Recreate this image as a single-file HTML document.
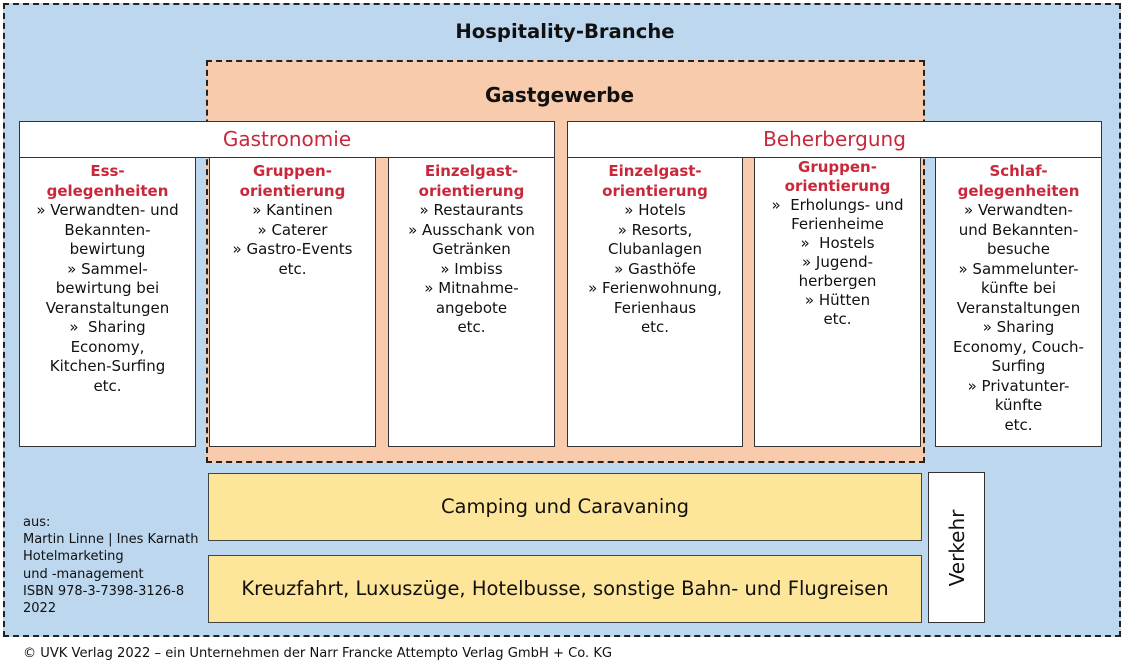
<!DOCTYPE html>
<html><head><meta charset="utf-8"><style>
*{margin:0;padding:0;box-sizing:border-box}
body{width:1125px;height:666px;background:#fff;position:relative;overflow:hidden;font-family:"DejaVu Sans","Liberation Sans",sans-serif;color:#111}
.a{position:absolute}
.box{position:absolute;background:#fff;border:1px solid #333}
.col{text-align:center;font-size:15px;line-height:19.5px;padding-top:5px;white-space:nowrap}
.h{color:#c9283a;font-weight:bold}
.hdr{position:absolute;background:#fff;border:1px solid #333;color:#c9283a;font-size:20px;text-align:center;line-height:34px}
.y{position:absolute;background:#fde59a;border:1px solid #444;text-align:center}
</style></head><body>
<div class="a" style="left:3px;top:3px;width:1118px;height:634px;background:#bdd7ee;border:2px dashed #222"></div>
<div class="a" style="left:0;width:1130px;top:19px;text-align:center;font-weight:bold;font-size:19.6px;line-height:26px">Hospitality-Branche</div>
<div class="a" style="left:206px;top:60px;width:719px;height:403px;background:#f8cbad;border:2px dashed #222"></div>
<div class="a" style="left:206px;width:707px;top:82px;text-align:center;font-weight:bold;font-size:20px;line-height:26px">Gastgewerbe</div>

<div class="box col" style="left:19px;top:156px;width:177px;height:291px"><span class="h">Ess-<br>gelegenheiten</span><br>» Verwandten- und<br>Bekannten-<br>bewirtung<br>» Sammel-<br>bewirtung bei<br>Veranstaltungen<br>»&nbsp; Sharing<br>Economy,<br>Kitchen-Surfing<br>etc.</div>
<div class="box col" style="left:209px;top:156px;width:167px;height:291px"><span class="h">Gruppen-<br>orientierung</span><br>» Kantinen<br>» Caterer<br>» Gastro-Events<br>etc.</div>
<div class="box col" style="left:388px;top:156px;width:167px;height:291px"><span class="h">Einzelgast-<br>orientierung</span><br>» Restaurants<br>» Ausschank von<br>Getränken<br>» Imbiss<br>» Mitnahme-<br>angebote<br>etc.</div>
<div class="box col" style="left:567px;top:156px;width:176px;height:291px"><span class="h">Einzelgast-<br>orientierung</span><br>» Hotels<br>» Resorts,<br>Clubanlagen<br>» Gasthöfe<br>» Ferienwohnung,<br>Ferienhaus<br>etc.</div>
<div class="box col" style="left:754px;top:156px;width:167px;height:291px;padding-top:1px;line-height:19px"><span class="h">Gruppen-<br>orientierung</span><br>»&nbsp; Erholungs- und<br>Ferienheime<br>»&nbsp; Hostels<br>» Jugend-<br>herbergen<br>» Hütten<br>etc.</div>
<div class="box col" style="left:935px;top:156px;width:167px;height:291px"><span class="h">Schlaf-<br>gelegenheiten</span><br>» Verwandten-<br>und Bekannten-<br>besuche<br>» Sammelunter-<br>künfte bei<br>Veranstaltungen<br>» Sharing<br>Economy, Couch-<br>Surfing<br>» Privatunter-<br>künfte<br>etc.</div>

<div class="hdr" style="left:19px;top:121px;width:536px;height:37px">Gastronomie</div>
<div class="hdr" style="left:567px;top:121px;width:535px;height:37px">Beherbergung</div>

<div class="y" style="left:208px;top:473px;width:714px;height:68px;line-height:66px;font-size:19.5px">Camping und Caravaning</div>
<div class="y" style="left:208px;top:555px;width:714px;height:68px;line-height:66px;font-size:19.5px">Kreuzfahrt, Luxuszüge, Hotelbusse, sonstige Bahn- und Flugreisen</div>
<div class="box" style="left:928px;top:472px;width:57px;height:151px"><div class="a" style="left:28px;top:75px;transform:translate(-50%,-50%) rotate(-90deg);font-size:20px;white-space:nowrap">Verkehr</div></div>

<div class="a" style="left:23px;top:514px;font-size:13px;line-height:17.2px">aus:<br>Martin Linne | Ines Karnath<br>Hotelmarketing<br>und -management<br>ISBN 978-3-7398-3126-8<br>2022</div>
<div class="a" style="left:23px;top:645px;font-size:13.1px;line-height:18px">© UVK Verlag 2022 – ein Unternehmen der Narr Francke Attempto Verlag GmbH + Co. KG</div>
</body></html>
